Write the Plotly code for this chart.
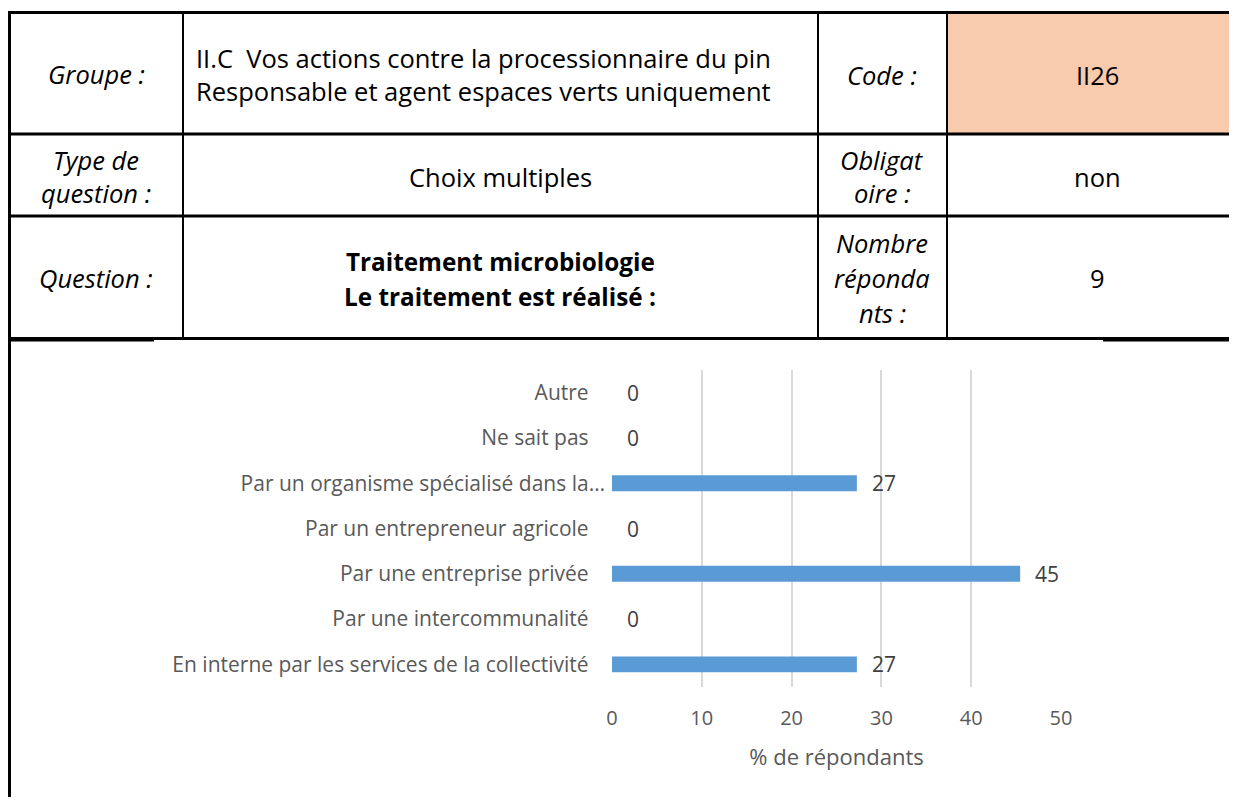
import plotly.graph_objects as go

# ---------------- data ----------------
categories = [
    "En interne par les services de la collectivité",
    "Par une intercommunalité",
    "Par une entreprise privée",
    "Par un entrepreneur agricole",
    "Par un organisme spécialisé dans la…",
    "Ne sait pas",
    "Autre",
]
values = [27.27, 0, 45.45, 0, 27.27, 0, 0]
x_ticks = [0, 10, 20, 30, 40, 50]
x_title = "% de répondants"

groupe_lines = ["II.C  Vos actions contre la processionnaire du pin",
                "Responsable et agent espaces verts uniquement"]
type_question = "Choix multiples"
question_lines = ["Traitement microbiologie", "Le traitement est réalisé :"]
code_label = "Code :"
code_value = "II26"
oblig_lines = ["Obligat", "oire :"]
oblig_value = "non"
nombre_lines = ["Nombre", "réponda", "nts :"]
nombre_value = "9"

# ---------------- layout helpers ----------------
# the page body has an 8px margin; coordinates below are page pixels
OFF = 8
PW, PH = 1237, 805
W, H = PW - OFF, PH - 2 * OFF
def X(px):
    return (px - OFF) / W
def Y(py):
    return 1 - (py - OFF) / H

FONT = "Open Sans"
TFS = 25.5  # table font size
CFS = 21    # chart font size

# truncated label sits further right (Excel-style ellipsis)
tick_text = [c if c.endswith("…") else c + "\u00a0" * 3 for c in categories]

fig = go.Figure()
fig.add_trace(go.Bar(
    x=values, y=categories, orientation="h",
    marker=dict(color="#5B9BD5", line=dict(width=0)),
    width=0.35, hoverinfo="skip",
))

annotations = []
# data labels
for c, v in zip(categories, values):
    annotations.append(dict(
        x=v, y=c, xref="x", yref="y", text=f"{v:.0f}", showarrow=False,
        xanchor="left", yanchor="middle", xshift=13,
        font=dict(family=FONT, size=CFS, color="#404040"),
    ))

def txt(text, px, py, xanchor="center", size=TFS, color="black"):
    annotations.append(dict(
        x=X(px), y=Y(py), xref="paper", yref="paper", text=text,
        showarrow=False, xanchor=xanchor, yanchor="middle",
        font=dict(family=FONT, size=size, color=color),
    ))

# column 1 labels
txt("<i>Groupe :</i>", 96, 74)
txt("<i>Type de</i>", 96, 160)
txt("<i>question :</i>", 96, 193)
txt("<i>Question :</i>", 96, 278)
# column 2
txt(groupe_lines[0], 194, 58, xanchor="left")
txt(groupe_lines[1], 194, 91, xanchor="left")
txt(type_question, 500, 177)
txt(f"<b>{question_lines[0]}</b>", 500, 262, size=24.3)
txt(f"<b>{question_lines[1]}</b>", 500, 296, size=24.3)
# column 3
txt(f"<i>{code_label}</i>", 882, 75)
txt(f"<i>{oblig_lines[0]}</i>", 882, 160)
txt(f"<i>{oblig_lines[1]}</i>", 882, 193)
for i, l in enumerate(nombre_lines):
    txt(f"<i>{l}</i>", 882, 243 + i * 35)
# column 4
txt(code_value, 1097, 75)
txt(oblig_value, 1097, 177)
txt(nombre_value, 1097, 278)

shapes = []
# code cell fill
shapes.append(dict(type="rect", xref="paper", yref="paper",
                   x0=X(947), x1=1.0, y0=Y(133), y1=Y(12),
                   fillcolor="#F8CBAD", line=dict(width=0), layer="below"))
for py in [12.5, 134, 216, 338.5]:
    shapes.append(dict(type="line", xref="paper", yref="paper",
                       x0=X(8), x1=1.0, y0=Y(py), y1=Y(py),
                       line=dict(color="black", width=3)))
shapes.append(dict(type="line", xref="paper", yref="paper",
                   x0=X(9.5), x1=X(9.5), y0=Y(11), y1=0,
                   line=dict(color="black", width=3)))
for px in [183, 818, 947]:
    shapes.append(dict(type="line", xref="paper", yref="paper",
                       x0=X(px), x1=X(px), y0=Y(12), y1=Y(339),
                       line=dict(color="black", width=2)))
# partial border of the chart frame
for a, b in [(8, 154), (1103, PW)]:
    shapes.append(dict(type="line", xref="paper", yref="paper",
                       x0=X(a), x1=X(b), y0=Y(340.5), y1=Y(340.5),
                       line=dict(color="black", width=2)))

fig.update_layout(
    width=W, height=H,
    margin=dict(l=0, r=0, t=0, b=0),
    paper_bgcolor="white", plot_bgcolor="white",
    showlegend=False,
    font=dict(family=FONT, color="#595959"),
    annotations=annotations, shapes=shapes,
    xaxis=dict(
        domain=[X(612), X(1061)], range=[0, 50],
        tickvals=x_ticks, showgrid=True, gridcolor="#D9D9D9", gridwidth=1.5,
        zeroline=False, showline=False, ticks="",
        tickfont=dict(family=FONT, size=CFS - 1, color="#595959"),
        ticklabelstandoff=17,
        title=dict(text=x_title, font=dict(family=FONT, size=22, color="#595959"), standoff=19),
        automargin=False, fixedrange=True,
    ),
    yaxis=dict(
        domain=[Y(687), Y(370)], range=[-0.5, 6.5],
        type="category", categoryorder="array", categoryarray=categories,
        tickmode="array", tickvals=categories, ticktext=tick_text,
        showgrid=False, zeroline=False, showline=False, ticks="",
        tickfont=dict(family=FONT, size=CFS, color="#595959"),
        ticklabelstandoff=6, automargin=False, fixedrange=True,
    ),
)

fig.write_html("out.html")
